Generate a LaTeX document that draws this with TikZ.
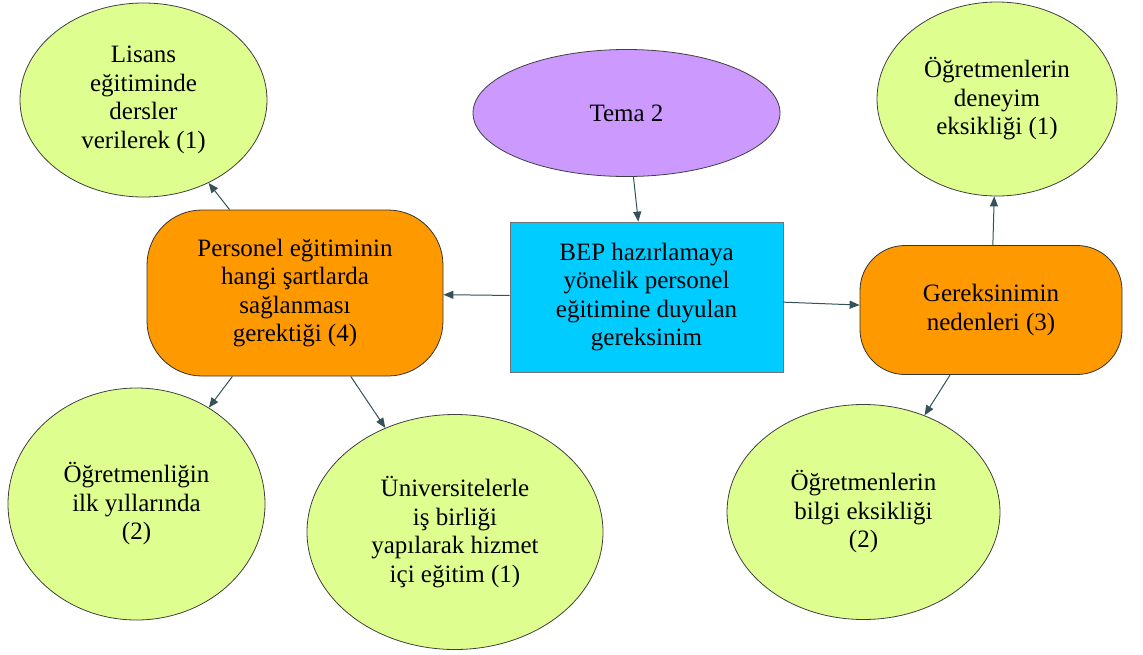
\documentclass[tikz,border=0pt]{standalone}
\usepackage{fontspec}
\setmainfont{Liberation Serif}
\usetikzlibrary{shapes.geometric,arrows.meta}
\definecolor{limeg}{RGB}{222,255,143}
\definecolor{purp}{RGB}{204,153,255}
\definecolor{cyanb}{RGB}{0,204,255}
\definecolor{orangeb}{RGB}{255,153,0}
\definecolor{arrc}{RGB}{52,82,88}
\begin{document}
\begin{tikzpicture}[x=1pt,y=-1pt,
  every node/.style={font=\fontsize{25}{28.5}\selectfont, align=center, inner sep=0pt},
  oval/.style={ellipse, draw=black!75, line width=0.8pt, fill=limeg},
  orbox/.style={rectangle, draw=black!80, line width=0.8pt, fill=orangeb},
  arr/.style={draw=arrc, line width=1pt, -{Triangle[length=10pt,width=8pt]}}]
\useasboundingbox (0,0) rectangle (1143,654);
\node[oval, minimum width=247, minimum height=194] (lis) at (143.5,100) {Lisans\\eğitiminde\\dersler\\verilerek (1)};
\node[oval, minimum width=240, minimum height=194] (den) at (997,99) {Öğretmenlerin\\deneyim\\eksikliği (1)};
\node[ellipse, draw=black!75, line width=0.8pt, fill=purp, minimum width=307, minimum height=127] (tema) at (626.5,113) {Tema 2};
\node[rectangle, draw=black!55, line width=0.8pt, fill=cyanb, minimum width=273, minimum height=150] (bep) at (646.5,297) {BEP hazırlamaya\\yönelik personel\\eğitimine duyulan\\gereksinim};
\node[orbox, rounded corners=55, minimum width=296, minimum height=166] (per) at (295,293) {Personel eğitiminin\\hangi şartlarda\\sağlanması\\gerektiği (4)};
\node[orbox, rounded corners=45, minimum width=262, minimum height=129] (ger) at (991,310) {Gereksinimin\\nedenleri (3)};
\node[oval, minimum width=257, minimum height=232] (ogl) at (136.5,504) {Öğretmenliğin\\ilk yıllarında\\(2)};
\node[oval, minimum width=296, minimum height=235] (uni) at (455,532) {Üniversitelerle\\iş birliği\\yapılarak hizmet\\içi eğitim (1)};
\node[oval, minimum width=273, minimum height=215] (bil) at (863.5,512) {Öğretmenlerin\\bilgi eksikliği\\(2)};
\draw[arr] (tema) -- (bep);
\draw[arr] (bep) -- (per);
\draw[arr] (bep) -- (ger);
\draw[arr] (per) -- (lis);
\draw[arr] (per) -- (ogl);
\draw[arr] (per) -- (uni);
\draw[arr] (ger) -- (den);
\draw[arr] (ger) -- (bil);
\end{tikzpicture}
\end{document}
